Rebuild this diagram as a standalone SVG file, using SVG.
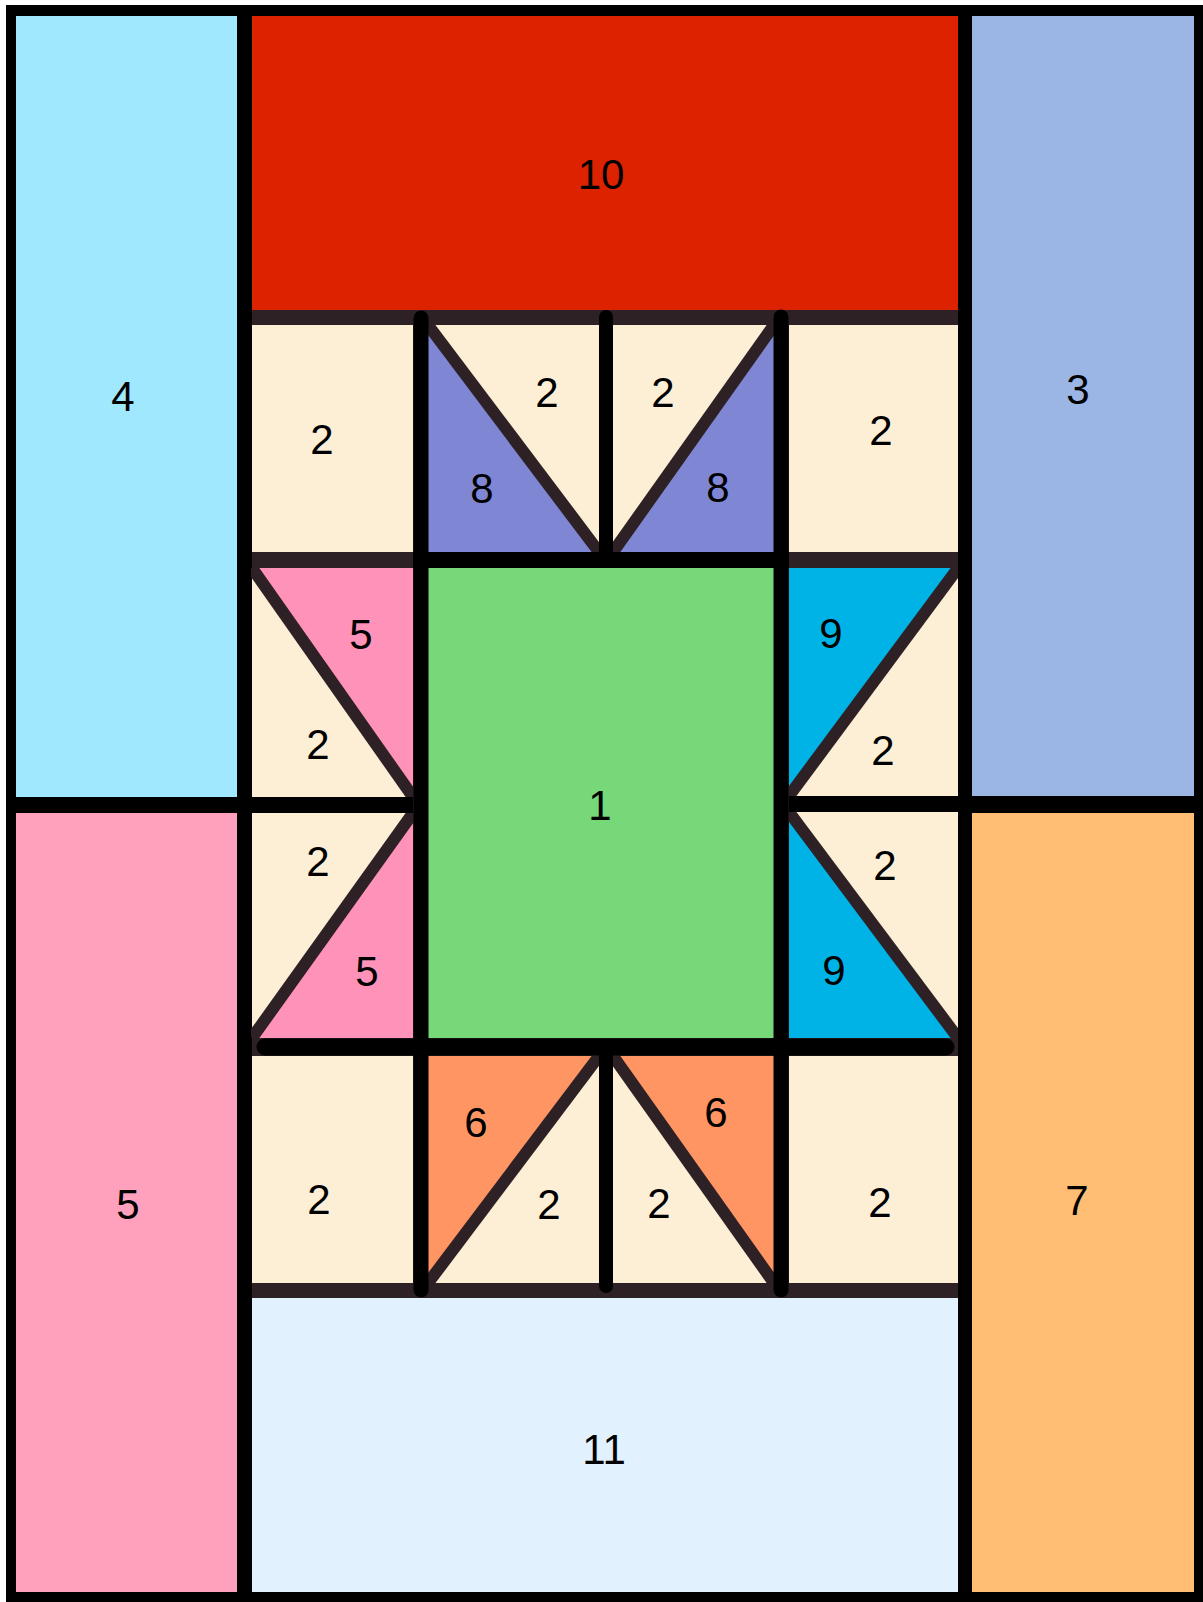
<svg xmlns="http://www.w3.org/2000/svg" width="1203" height="1602" viewBox="0 0 1203 1602">
<style>
text{font-family:"Liberation Sans",Arial,sans-serif;font-size:42px;fill:#000;text-anchor:middle}
.cream{fill:#fcefd6}
.diag{stroke:#2e2125;stroke-width:12;fill:none}
.blk{stroke:#000;fill:none;stroke-linecap:round}
.blkb{stroke:#000;fill:none;stroke-linecap:butt}
</style>
<rect x="0" y="0" width="1203" height="1602" fill="#fff"/>
<rect x="6" y="5" width="1197" height="1597" fill="#000"/>
<rect x="252" y="310" width="706" height="988" fill="#2e2125"/>

<g id="n4"><rect x="16" y="16" width="221" height="781" fill="#a0e8fe"/><text x="123" y="411">4</text></g>
<g id="n5big"><rect x="16" y="813" width="221" height="779" fill="#ffa1bc"/><text x="128" y="1219">5</text></g>
<g id="n3"><rect x="972" y="16" width="222" height="780" fill="#9bb5e4"/><text x="1078" y="404">3</text></g>
<g id="n7"><rect x="972" y="813" width="222" height="779" fill="#ffbe74"/><text x="1077" y="1215">7</text></g>
<g id="n10"><rect x="252" y="16" width="706" height="294" fill="#dd2200"/><text x="601" y="189">10</text></g>
<g id="n11"><rect x="252" y="1298" width="706" height="294" fill="#e1f1fd"/><text x="604" y="1464">11</text></g>
<g id="n1"><rect x="428" y="568" width="346" height="470" fill="#77d87a"/><text x="600" y="820">1</text></g>

<g id="tileA1"><rect class="cream" x="252" y="325" width="161" height="227"/><text x="322" y="454">2</text></g>
<g id="tileD1"><rect class="cream" x="789" y="325" width="169" height="227"/><text x="881" y="445">2</text></g>
<g id="tileA4"><rect class="cream" x="252" y="1056" width="161" height="227"/><text x="319" y="1214">2</text></g>
<g id="tileD4"><rect class="cream" x="789" y="1056" width="169" height="227"/><text x="880" y="1217">2</text></g>

<g id="tileB1"><rect class="cream" x="428" y="325" width="171" height="227"/><polygon points="428,325 428,552 599,552" fill="#7f87d4"/><line class="diag" x1="428" y1="325" x2="599" y2="552"/><text x="547" y="407">2</text><text x="482" y="503">8</text></g>
<g id="tileC1"><rect class="cream" x="613" y="325" width="161" height="227"/><polygon points="774,325 774,552 613,552" fill="#7f87d4"/><line class="diag" x1="613" y1="552" x2="774" y2="325"/><text x="663" y="407">2</text><text x="718" y="502">8</text></g>

<g id="tileA2"><rect class="cream" x="252" y="568" width="161" height="229"/><polygon points="252,568 413,568 413,797" fill="#ff92b8"/><line class="diag" x1="252" y1="568" x2="413" y2="797"/><text x="361" y="649">5</text><text x="318" y="759">2</text></g>
<g id="tileA3"><rect class="cream" x="252" y="813" width="161" height="225"/><polygon points="413,813 413,1038 252,1038" fill="#ff92b8"/><line class="diag" x1="413" y1="813" x2="252" y2="1038"/><text x="318" y="876">2</text><text x="367" y="986">5</text></g>

<g id="tileD2"><rect class="cream" x="789" y="568" width="169" height="228"/><polygon points="789,568 958,568 789,796" fill="#00b3e7"/><line class="diag" x1="958" y1="568" x2="789" y2="796"/><text x="831" y="648">9</text><text x="883" y="765">2</text></g>
<g id="tileD3"><rect class="cream" x="789" y="812" width="169" height="226"/><polygon points="789,812 789,1038 958,1038" fill="#00b3e7"/><line class="diag" x1="789" y1="812" x2="958" y2="1038"/><text x="885" y="880">2</text><text x="834" y="985">9</text></g>

<g id="tileB4"><rect class="cream" x="428" y="1056" width="171" height="227"/><polygon points="428,1056 599,1056 428,1283" fill="#ff9563"/><line class="diag" x1="428" y1="1283" x2="599" y2="1056"/><text x="476" y="1137">6</text><text x="549" y="1219">2</text></g>
<g id="tileC4"><rect class="cream" x="613" y="1056" width="161" height="227"/><polygon points="613,1056 774,1056 774,1283" fill="#ff9563"/><line class="diag" x1="613" y1="1056" x2="774" y2="1283"/><text x="659" y="1218">2</text><text x="716" y="1127">6</text></g>

<g id="connectors">
<line class="blkb" x1="244" y1="5" x2="244" y2="1602" stroke-width="14"/>
<line class="blkb" x1="965" y1="5" x2="965" y2="1602" stroke-width="14"/>
<line class="blkb" x1="6" y1="805" x2="413" y2="805" stroke-width="16"/>
<line class="blkb" x1="789" y1="804" x2="1203" y2="804" stroke-width="16"/>
<line class="blkb" x1="413" y1="560" x2="789" y2="560" stroke-width="16"/>
<line class="blk" x1="265" y1="1047" x2="946" y2="1047" stroke-width="17"/>
<line class="blk" x1="421" y1="318" x2="421" y2="1290" stroke-width="15"/>
<line class="blk" x1="781" y1="317" x2="781" y2="1290" stroke-width="15"/>
<line class="blk" x1="606" y1="317" x2="606" y2="560" stroke-width="14"/>
<line class="blk" x1="606" y1="1047" x2="606" y2="1286" stroke-width="14"/>
</g>
</svg>
